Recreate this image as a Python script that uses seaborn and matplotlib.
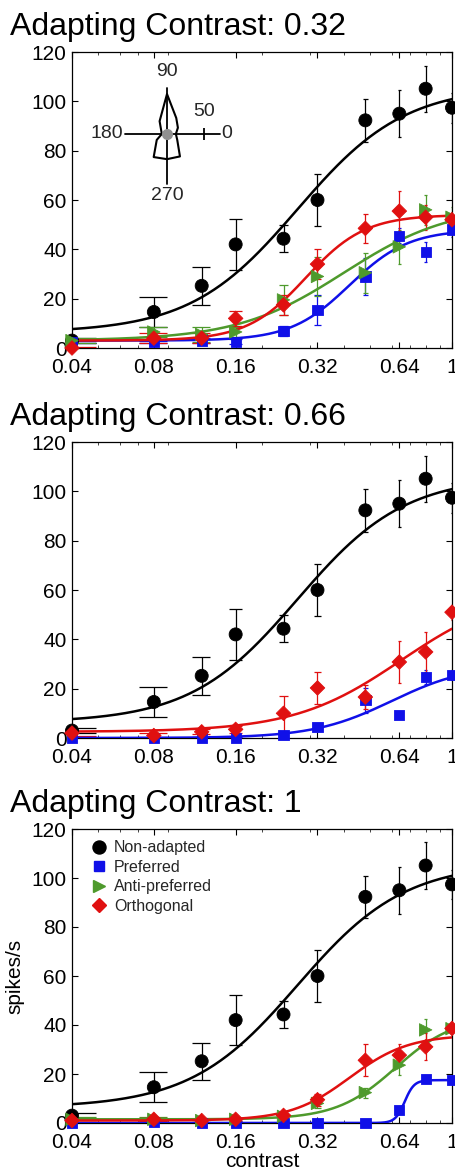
import numpy as np
import pandas as pd
import matplotlib
matplotlib.use("Agg")
import matplotlib.pyplot as plt
import seaborn as sns
from matplotlib.lines import Line2D
from matplotlib.ticker import FixedLocator, LogLocator, NullFormatter

# ---------------- data ----------------
contrast = [0.04, 0.08, 0.12, 0.16, 0.24, 0.32, 0.48, 0.64, 0.80, 1.0]
xtick_values = [0.04, 0.08, 0.16, 0.32, 0.64, 1.0]
xtick_labels = ["0.04", "0.08", "0.16", "0.32", "0.64", "1"]
ytick_values = [0, 20, 40, 60, 80, 100, 120]
conditions = ["Non-adapted", "Preferred", "Anti-preferred", "Orthogonal"]
panel_titles = ["Adapting Contrast: 0.32", "Adapting Contrast: 0.66", "Adapting Contrast: 1"]

# Non-adapted (same in every panel)
nonadapted_mean = [3, 14.6, 25.2, 42, 44.3, 60, 92.3, 95, 105.1, 97.4]
nonadapted_err = [1, 6.2, 7.6, 10.3, 5.5, 10.5, 8.7, 9.6, 9.4, 6]
nonadapted_fit = [6.2, 100, 0.27, 2.2]          # base, rmax, c50, n

# Adapting contrast 0.32
pref_032_mean = [2.5, 2.5, 3, 2.5, 7, 15.5, 29, 45.5, 39, 48]
pref_032_err = [0.5, 0.5, 1, 1, 2, 6, 7.5, 3, 4, 3]
pref_032_fit = [3, 45, 0.42, 4]
anti_032_mean = [3, 6.5, 5.5, 6.5, 19.5, 29, 30.5, 41, 56, 53]
anti_032_err = [1, 2, 3, 2, 6, 8, 8, 7, 6, 4]
anti_032_fit = [3, 55, 0.40, 2.2]
orth_032_mean = [0, 4, 4, 12, 17.5, 34, 48.5, 55.5, 53, 52]
orth_032_err = [0.5, 2, 2, 3, 4, 6, 6, 8, 5, 3]
orth_032_fit = [3, 51, 0.29, 4]

# Adapting contrast 0.66
pref_066_mean = [0, 0, 0, 0, 1.3, 4.5, 15.3, 9.2, 24.7, 25.4]
pref_066_err = [0.3, 0.3, 0.3, 0.3, 0.5, 1.5, 5, 1, 3, 2]
pref_066_fit = [0, 30, 0.6, 3]
orth_066_mean = [2, 1, 2.5, 3.5, 10, 20.3, 16.6, 30.8, 34.9, 51]
orth_066_err = [1, 1, 1, 1.5, 7, 6.5, 5, 8.5, 8, 3]
orth_066_fit = [2.5, 58, 0.65, 2.2]

# Adapting contrast 1
pref_100_mean = [0, 0.5, 0, 0, 0, 0, 0, 5.2, 17.9, 17.5]
pref_100_err = [0.2, 0.2, 0.2, 0.2, 0.2, 0.2, 0.2, 1, 1.5, 1]
pref_100_fit = [0, 17.5, 0.67, 25]
anti_100_mean = [1.5, 1.5, 1, 1.5, 2.7, 8, 12.4, 23.6, 38, 38.5]
anti_100_err = [1, 1, 0.5, 0.5, 1, 2, 2, 4, 4.5, 2]
anti_100_fit = [1.5, 42, 0.62, 4]
orth_100_mean = [1, 1.5, 1, 1.5, 3.1, 9.5, 25.6, 27.7, 31.1, 38.6]
orth_100_err = [0.5, 0.5, 0.5, 0.5, 1, 2.5, 6.5, 4.5, 5.5, 2]
orth_100_fit = [1, 35, 0.42, 4]

# Direction tuning inset (polar)
tuning_dir_deg = [0, 30, 60, 90, 120, 150, 180, 210, 240, 270, 300, 330]
tuning_rate = [12, 17, 25, 54, 20, 9, 7, 16, 36, 34, 35, 16]
polar_labels = ["0", "90", "180", "270"]
polar_scale_value = 50

# ---------------- style ----------------
sns.set_theme(style="ticks")
plt.rcParams["font.family"] = ["Liberation Sans", "DejaVu Sans"]
plt.rcParams["axes.linewidth"] = 0.9

colors = {"Non-adapted": "#000000", "Preferred": "#1010e8",
          "Anti-preferred": "#4e9a2c", "Orthogonal": "#e01010"}
markers = {"Non-adapted": "o", "Preferred": "s", "Anti-preferred": ">", "Orthogonal": "D"}
sizes = {"Non-adapted": 88, "Preferred": 55, "Anti-preferred": 80, "Orthogonal": 55}


def naka_rushton(c, base, rmax, c50, n):
    c = np.asarray(c)
    return base + rmax * c ** n / (c ** n + c50 ** n)


panels = [
    {"Non-adapted": (nonadapted_mean, nonadapted_err, nonadapted_fit),
     "Preferred": (pref_032_mean, pref_032_err, pref_032_fit),
     "Anti-preferred": (anti_032_mean, anti_032_err, anti_032_fit),
     "Orthogonal": (orth_032_mean, orth_032_err, orth_032_fit)},
    {"Non-adapted": (nonadapted_mean, nonadapted_err, nonadapted_fit),
     "Preferred": (pref_066_mean, pref_066_err, pref_066_fit),
     "Orthogonal": (orth_066_mean, orth_066_err, orth_066_fit)},
    {"Non-adapted": (nonadapted_mean, nonadapted_err, nonadapted_fit),
     "Preferred": (pref_100_mean, pref_100_err, pref_100_fit),
     "Anti-preferred": (anti_100_mean, anti_100_err, anti_100_fit),
     "Orthogonal": (orth_100_mean, orth_100_err, orth_100_fit)},
]

W, H = 456, 1175
fig = plt.figure(figsize=(W / 100, H / 100), dpi=100)

axes_px = [(52, 348), (442, 738), (829, 1123)]   # top, bottom pixel rows
title_baseline_px = [35, 425, 812]
ax_left, ax_right = 72, 452

cap_half = 0.0092   # MATLAB-like cap half width in contrast units

axes = []
for i, (panel, (top, bot)) in enumerate(zip(panels, axes_px)):
    ax = fig.add_axes([ax_left / W, (H - bot) / H, (ax_right - ax_left) / W, (bot - top) / H])
    axes.append(ax)
    rows = []
    fit_rows = []
    cgrid = np.geomspace(contrast[0], contrast[-1], 300)
    for cond, (mean, err, fit) in panel.items():
        for c, m, e in zip(contrast, mean, err):
            rows.append({"contrast": c, "rate": m, "err": e, "condition": cond})
        for c, r in zip(cgrid, naka_rushton(cgrid, *fit)):
            fit_rows.append({"contrast": c, "rate": r, "condition": cond})
    df = pd.DataFrame(rows)
    dfit = pd.DataFrame(fit_rows)
    present = [c for c in conditions if c in panel]

    ax.set_xscale("log")
    # error bars
    for cond in present:
        d = df[df.condition == cond]
        col = colors[cond]
        ax.errorbar(d.contrast, d.rate, yerr=d.err, fmt="none", ecolor=col,
                    elinewidth=0.9, capsize=0, zorder=2)
        for yy in (d.rate - d.err, d.rate + d.err):
            ax.hlines(yy, d.contrast - cap_half, d.contrast + cap_half, colors=col,
                      linewidth=0.9, zorder=2)
    # fitted curves
    sns.lineplot(data=dfit, x="contrast", y="rate", hue="condition",
                 palette={c: colors[c] for c in present}, hue_order=present,
                 linewidth=1.8, legend=False, ax=ax, zorder=3)
    # data points
    sns.scatterplot(data=df, x="contrast", y="rate", hue="condition", style="condition",
                    size="condition", hue_order=present, style_order=present, size_order=present,
                    palette={c: colors[c] for c in present},
                    markers={c: markers[c] for c in present},
                    sizes={c: sizes[c] for c in present},
                    edgecolor="face", linewidth=0.6, legend=False, ax=ax,
                    zorder=4, clip_on=False)

    ax.set_xlim(0.04, 1.0)
    ax.set_ylim(0, 120)
    ax.xaxis.set_major_locator(FixedLocator(xtick_values))
    ax.set_xticklabels(xtick_labels)
    ax.xaxis.set_minor_locator(LogLocator(base=10, subs=np.arange(2, 10) * 0.1 * 10 / 10, numticks=20))
    ax.xaxis.set_minor_formatter(NullFormatter())
    ax.set_yticks(ytick_values)
    ax.tick_params(axis="both", which="major", direction="in", length=4, width=0.8,
                   top=True, right=True, labelsize=15, pad=4, colors="black")
    ax.tick_params(axis="x", which="minor", direction="in", length=2.5, width=0.6,
                   top=True, bottom=True)
    ax.tick_params(axis="x", which="major", pad=7)
    for s in ax.spines.values():
        s.set_color("black")
    ax.set_xlabel("")
    ax.set_ylabel("")
    fig.text(10 / W, (H - title_baseline_px[i]) / H, panel_titles[i], fontsize=23,
             ha="left", va="baseline", color="black")

# axis labels on the bottom panel
axes[2].set_xlabel("contrast", fontsize=15, labelpad=0.5, color="black")
axes[2].set_ylabel("spikes/s", fontsize=15, labelpad=5, color="black")

# legend on the bottom panel
handles = [Line2D([], [], linestyle="none", marker=markers[c], color=colors[c],
                  markersize=np.sqrt(sizes[c]), markeredgecolor=colors[c]) for c in conditions]
axes[2].legend(handles, conditions, loc="upper left", frameon=False, fontsize=11.5,
               handlelength=1.0, handletextpad=0.45, labelspacing=0.28,
               borderaxespad=0.3, bbox_to_anchor=(0.02, 1.0))

# polar direction-tuning inset in the top panel
cx, cy, rad_px = 167, 134, 74
pax = fig.add_axes([(cx - rad_px) / W, (H - cy - rad_px) / H, 2 * rad_px / W, 2 * rad_px / H],
                   projection="polar")
pax.set_facecolor("none")
pax.set_rlim(0, 100)
theta = np.deg2rad(tuning_dir_deg + [tuning_dir_deg[0]])
rr = tuning_rate + [tuning_rate[0]]
pax.plot(theta, rr, color="black", linewidth=1.5)
arm_len = {0: 72, 90: 62, 180: 57, 270: 67}
for ang, L in arm_len.items():
    pax.plot([np.deg2rad(ang)] * 2, [0, L], color="black", linewidth=1.3)
pax.plot([0], [polar_scale_value], marker="|", markersize=9, markeredgewidth=1.3, color="black")
pax.plot([0], [0], marker="o", markersize=7, color="#909090", markeredgecolor="#909090")
pax.text(np.deg2rad(90), 84, polar_labels[1], ha="center", va="center", fontsize=14)
pax.text(np.deg2rad(270), 83, polar_labels[3], ha="center", va="center", fontsize=14)
pax.text(np.deg2rad(180), 59, polar_labels[2], ha="right", va="center", fontsize=14)
pax.text(0, 73, polar_labels[0], ha="left", va="center", fontsize=14)
pax.annotate(str(polar_scale_value), xy=(0, polar_scale_value), xytext=(0, 10),
             textcoords="offset points", ha="center", va="bottom", fontsize=14)
pax.set_axis_off()

fig.savefig("out.png", dpi=100)
